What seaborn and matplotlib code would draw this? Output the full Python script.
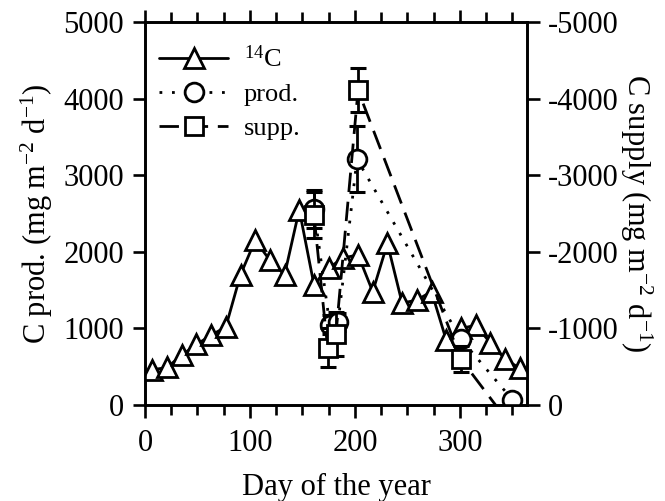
import matplotlib
matplotlib.use("Agg")
import matplotlib.pyplot as plt
from matplotlib.ticker import MultipleLocator, FixedLocator
import numpy as np
import pandas as pd
import seaborn as sns

# ---- data ----
c14_day = [7, 21, 35, 49, 63, 77, 91, 105, 119, 133, 147, 161, 175, 189, 203, 217,
           231, 245, 259, 273, 287, 301, 315, 329, 343, 357]
c14_val = [460, 490, 650, 790, 910, 1020, 1700, 2150, 1890, 1700, 2550, 1570, 1790,
           1920, 1960, 1480, 2110, 1330, 1370, 1480, 850, 1000, 1040, 815, 600, 480]

prod_day = [161, 176, 184, 202, 301, 350]
prod_val = [2560, 1050, 1080, 3210, 860, 70]
prod_err = [250, 120, 120, 430, 80, 0]

supp_day = [161, 174, 182, 203, 301, 350]
supp_val = [-2480, -750, -930, -4110, -600, 290]
supp_err = [300, 250, 290, 290, 170, 0]

xticks = [0, 100, 200, 300]
yticks_left = [0, 1000, 2000, 3000, 4000, 5000]
yticks_right = [0, -1000, -2000, -3000, -4000, -5000]

sns.set_theme(style="ticks")
plt.rcParams["font.family"] = ["Liberation Serif", "DejaVu Serif"]
plt.rcParams["mathtext.fontset"] = "custom"
plt.rcParams["mathtext.rm"] = "Liberation Serif"
plt.rcParams["mathtext.it"] = "Liberation Serif"
plt.rcParams["axes.unicode_minus"] = False
for k in ["text.color", "axes.labelcolor", "xtick.color", "ytick.color", "axes.edgecolor"]:
    plt.rcParams[k] = "black"

fig = plt.figure(figsize=(6.65, 5.01), dpi=100)
ax = fig.add_axes([145 / 665, 1 - 405 / 501, 382 / 665, 383 / 501])
ax2 = ax.twinx()

lw = 2.0
mew = 2.0
ms = 13.5

df_c = pd.DataFrame({"day": c14_day, "val": c14_val})
df_p = pd.DataFrame({"day": prod_day, "val": prod_val})
df_s = pd.DataFrame({"day": supp_day, "val": supp_val})

sns.lineplot(data=df_c, x="day", y="val", ax=ax, color="black", lw=lw, marker="^",
             markersize=ms + 1, markerfacecolor="white", markeredgecolor="black",
             markeredgewidth=mew, sort=False, estimator=None, label="$^{14}$C",
             legend=False, zorder=3)
ax.errorbar(prod_day, prod_val, yerr=prod_err, fmt="none", ecolor="black",
            elinewidth=lw, capsize=5.5, capthick=2.2, zorder=2)
sns.lineplot(data=df_p, x="day", y="val", ax=ax, color="black", lw=lw, marker="o",
             markersize=ms, markerfacecolor="white", markeredgecolor="black",
             markeredgewidth=mew, sort=False, estimator=None, label="prod.",
             legend=False, zorder=4)
ax.lines[-1].set_dashes([1, 3.5])

ax2.errorbar(supp_day, supp_val, yerr=supp_err, fmt="none", ecolor="black",
             elinewidth=lw, capsize=5.5, capthick=2.2, zorder=2)
sns.lineplot(data=df_s, x="day", y="val", ax=ax2, color="black", lw=lw, marker="s",
             markersize=ms - 1, markerfacecolor="white", markeredgecolor="black",
             markeredgewidth=mew, sort=False, estimator=None, label="supp.",
             legend=False, zorder=4)
ax2.lines[-1].set_dashes([7, 3.5])

ax.set_xlim(0, 364)
ax.set_ylim(0, 5000)
ax2.set_ylim(0, -5000)

ax.xaxis.set_major_locator(FixedLocator(xticks))
ax.xaxis.set_minor_locator(MultipleLocator(25))
ax.yaxis.set_major_locator(FixedLocator(yticks_left))
ax2.yaxis.set_major_locator(FixedLocator(yticks_right))
ax2.set_yticklabels([str(v) for v in yticks_right])

fs = 22
ax.tick_params(axis="x", which="major", direction="out", length=9, width=1.9,
               top=True, labelsize=fs, pad=8)
ax.tick_params(axis="x", which="minor", direction="out", length=7, width=1.9,
               top=True)
ax.tick_params(axis="y", which="major", direction="out", length=9, width=1.9,
               right=False, labelsize=fs, pad=6)
ax2.tick_params(axis="y", which="major", direction="out", length=9, width=1.9,
                labelsize=fs, pad=6)
for a in (ax, ax2):
    for s in a.spines.values():
        s.set_linewidth(1.9)
        s.set_color("black")

ax.set_xlabel("Day of the year", fontsize=fs, labelpad=11)
ax.set_ylabel("C prod. (mg m$^{-2}$ d$^{-1}$)", fontsize=fs, labelpad=6)
ax2.set_ylabel("C supply (mg m$^{-2}$ d$^{-1}$)", fontsize=fs, rotation=270,
               labelpad=26)

handles = ax.lines[:1] + [l for l in ax.lines if l.get_label() == "prod."] + \
          [l for l in ax2.lines if l.get_label() == "supp."]
leg = ax2.legend(handles=handles, labels=["$^{14}$C", "prod.", "supp."],
                 loc="upper left", bbox_to_anchor=(-0.025, 1.0), frameon=False,
                 fontsize=19, handlelength=2.6, handletextpad=0.6,
                 labelspacing=0.4, numpoints=1, borderaxespad=0.5)

fig.savefig("out.png", dpi=100)
